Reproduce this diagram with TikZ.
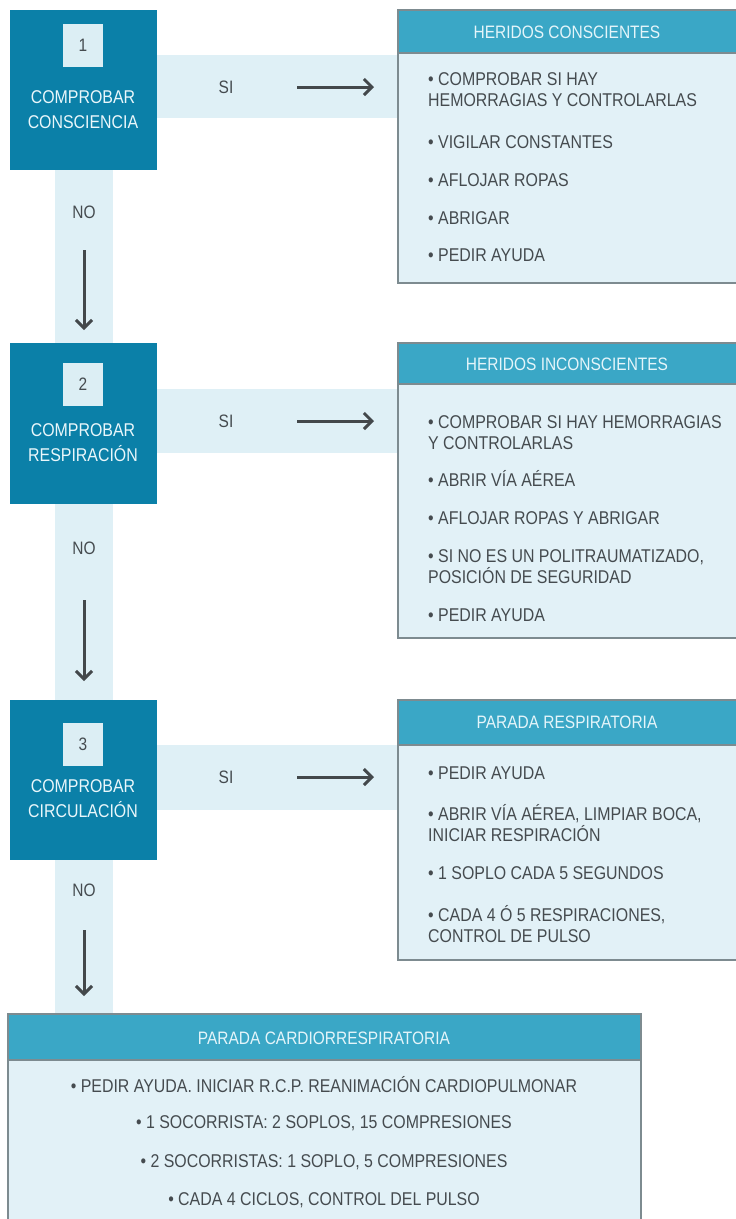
\documentclass[tikz,border=0pt]{standalone}
\usepackage{fontspec}
\setmainfont{Liberation Sans}[FakeStretch=0.86]
\usetikzlibrary{arrows.meta}
\definecolor{darkc}{HTML}{0B80A8}
\definecolor{headc}{HTML}{3AA7C6}
\definecolor{bandc}{HTML}{DFF0F6}
\definecolor{bodyc}{HTML}{E2F1F7}
\definecolor{borderc}{HTML}{7D8B90}
\definecolor{txtc}{HTML}{454B4F}
\definecolor{headtxt}{HTML}{E4F5FA}
\definecolor{stepTxt}{HTML}{EAF7FB}
\definecolor{numc}{HTML}{DCEEF4}
\definecolor{arrc}{HTML}{43484B}
\begin{document}
\begin{tikzpicture}[x=1pt,y=-1pt,
  stepbox/.style={fill=darkc, draw=none},
  band/.style={fill=bandc, draw=none},
  numbox/.style={fill=numc, draw=none, minimum width=40pt, minimum height=43pt, inner sep=0pt, text=txtc, font=\fontsize{18}{20}\selectfont},
  steptext/.style={text=stepTxt, align=center, inner sep=0pt, font=\fontsize{18.5}{25}\selectfont},
  lbl/.style={text=txtc, inner sep=0pt, font=\fontsize{18}{20}\selectfont},
  panel/.style={fill=bodyc, draw=borderc, line width=1.3pt},
  headbar/.style={fill=headc, draw=borderc, line width=1.3pt},
  headtext/.style={text=headtxt, inner sep=0pt, font=\fontsize{18}{20}\selectfont},
  item/.style={anchor=west, align=left, text=txtc, inner sep=0pt, font=\fontsize{18.5}{21}\selectfont},
  citem/.style={anchor=center, text=txtc, inner sep=0pt, font=\fontsize{18.5}{21}\selectfont},
  arr/.style={draw=arrc, line width=3pt, -{Straight Barb[length=8pt,width=16pt,line width=3pt]}}
]
\useasboundingbox (0,0) rectangle (736,1219);
% bands (SI)
\fill[band] (157,55) rectangle (398,118);
\fill[band] (157,389) rectangle (398,453);
\fill[band] (157,745) rectangle (398,810);
% bands (NO)
\fill[band] (55,170) rectangle (113,343);
\fill[band] (55,504) rectangle (113,700);
\fill[band] (55,860) rectangle (113,1014);

% step boxes
\fill[stepbox] (10,10) rectangle (157,170);
\fill[stepbox] (10,343) rectangle (157,504);
\fill[stepbox] (10,700) rectangle (157,860);
\node[numbox] (n1) at (83,45) {1};
\node[numbox] (n2) at (83,384) {2};
\node[numbox] (n3) at (83,744) {3};
\node[steptext] (s1) at (83,110) {COMPROBAR\\CONSCIENCIA};
\node[steptext] (s2) at (83,443) {COMPROBAR\\RESPIRACIÓN};
\node[steptext] (s3) at (83,799) {COMPROBAR\\CIRCULACIÓN};

% SI labels and arrows
\node[lbl] (si1) at (226,87) {SI};
\node[lbl] (si2) at (226,421) {SI};
\node[lbl] (si3) at (226,777) {SI};
\coordinate (a1s) at (297,87); \coordinate (a1e) at (374,87);
\coordinate (a2s) at (297,421); \coordinate (a2e) at (374,421);
\coordinate (a3s) at (297,777); \coordinate (a3e) at (374,777);
\draw[arr] (a1s) -- (a1e);
\draw[arr] (a2s) -- (a2e);
\draw[arr] (a3s) -- (a3e);

% NO labels and arrows
\node[lbl] (no1) at (84,212) {NO};
\node[lbl] (no2) at (84,548) {NO};
\node[lbl] (no3) at (84,890) {NO};
\coordinate (b1s) at (84,250); \coordinate (b1e) at (84,330);
\coordinate (b2s) at (84,600); \coordinate (b2e) at (84,681);
\coordinate (b3s) at (84,930); \coordinate (b3e) at (84,996);
\draw[arr] (b1s) -- (b1e);
\draw[arr] (b2s) -- (b2e);
\draw[arr] (b3s) -- (b3e);

% right panel 1
\draw[panel] (398,10) rectangle (737,283);
\draw[headbar] (398,10) rectangle (737,53);
\node[headtext] (h1) at (567,32) {HERIDOS CONSCIENTES};
\node[item] (p1a) at (428,89.5) {\textbullet\ COMPROBAR SI HAY\\HEMORRAGIAS Y CONTROLARLAS};
\node[item] (p1b) at (428,142) {\textbullet\ VIGILAR CONSTANTES};
\node[item] (p1c) at (428,180) {\textbullet\ AFLOJAR ROPAS};
\node[item] (p1d) at (428,218) {\textbullet\ ABRIGAR};
\node[item] (p1e) at (428,255) {\textbullet\ PEDIR AYUDA};

% right panel 2
\draw[panel] (398,343) rectangle (737,638);
\draw[headbar] (398,343) rectangle (737,384);
\node[headtext] (h2) at (567,364) {HERIDOS INCONSCIENTES};
\node[item] (p2a) at (428,432.5) {\textbullet\ COMPROBAR SI HAY HEMORRAGIAS\\Y CONTROLARLAS};
\node[item] (p2b) at (428,478) {\textbullet\ ABRIR VÍA AÉREA};
\node[item] (p2c) at (428,518) {\textbullet\ AFLOJAR ROPAS Y ABRIGAR};
\node[item] (p2d) at (428,567) {\textbullet\ SI NO ES UN POLITRAUMATIZADO,\\POSICIÓN DE SEGURIDAD};
\node[item] (p2e) at (428,615) {\textbullet\ PEDIR AYUDA};

% right panel 3
\draw[panel] (398,700) rectangle (737,960);
\draw[headbar] (398,700) rectangle (737,745);
\node[headtext] (h3) at (567,722) {PARADA RESPIRATORIA};
\node[item] (p3a) at (428,773) {\textbullet\ PEDIR AYUDA};
\node[item] (p3b) at (428,823.5) {\textbullet\ ABRIR VÍA AÉREA, LIMPIAR BOCA,\\INICIAR RESPIRACIÓN};
\node[item] (p3c) at (428,873) {\textbullet\ 1 SOPLO CADA 5 SEGUNDOS};
\node[item] (p3d) at (428,924.5) {\textbullet\ CADA 4 Ó 5 RESPIRACIONES,\\CONTROL DE PULSO};

% bottom panel
\draw[panel] (8,1014) rectangle (641,1230);
\draw[headbar] (8,1014) rectangle (641,1060);
\node[headtext] (h4) at (324,1038) {PARADA CARDIORRESPIRATORIA};
\node[citem] (p4a) at (324,1085) {\textbullet\ PEDIR AYUDA. INICIAR R.C.P. REANIMACIÓN CARDIOPULMONAR};
\node[citem] (p4b) at (324,1123) {\textbullet\ 1 SOCORRISTA: 2 SOPLOS, 15 COMPRESIONES};
\node[citem] (p4c) at (324,1162) {\textbullet\ 2 SOCORRISTAS: 1 SOPLO, 5 COMPRESIONES};
\node[citem] (p4d) at (324,1200) {\textbullet\ CADA 4 CICLOS, CONTROL DEL PULSO};
\end{tikzpicture}
\end{document}
